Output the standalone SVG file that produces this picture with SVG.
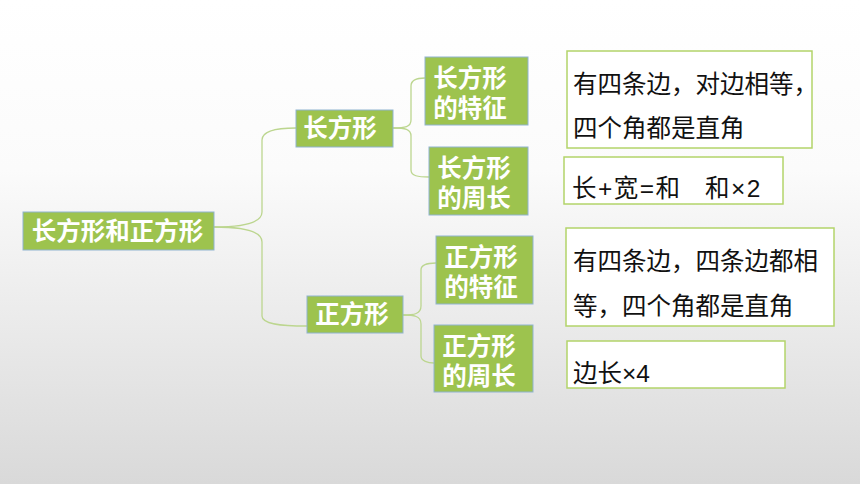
<svg xmlns="http://www.w3.org/2000/svg" width="860" height="484" viewBox="0 0 860 484">
<defs>
<linearGradient id="bg" x1="0" y1="0" x2="0" y2="1">
<stop offset="0" stop-color="#ffffff"/>
<stop offset="0.35" stop-color="#fbfbfb"/>
<stop offset="1" stop-color="#d9d9d9"/>
</linearGradient>
<style>
.node{fill:#9dc34e;stroke:#8fb3d0;stroke-width:1}
.lbl{font-family:"Liberation Sans","Noto Sans CJK SC",sans-serif;font-weight:bold;font-size:24.5px;fill:#ffffff}
.box{fill:#ffffff;stroke:#b3d46a;stroke-width:1.5}
.txt{font-family:"Liberation Sans","Noto Sans CJK SC",sans-serif;font-size:24.5px;fill:#111111}
.con{fill:none;stroke:#bcd68f;stroke-width:1.3}
</style>
</defs>
<rect width="860" height="484" fill="url(#bg)"/>
<g id="connectors">
<path class="con" d="M214,227 C240,227 262,224 262,212 L262,140 C262,131 275,128 296,128"/>
<path class="con" d="M214,227 C240,227 262,230 262,242 L262,316 C262,324 280,326 307,326"/>
<path class="con" d="M393,128 C405,128 411,127 411,120 L411,86 C411,80 418,78 425,78"/>
<path class="con" d="M393,128 C405,128 411,129 411,136 L411,170 C411,176 418,177 429,177"/>
<path class="con" d="M403,315 C414,315 421,314 421,306 L421,270 C421,265 428,263 436,263"/>
<path class="con" d="M403,315 C414,315 421,316 421,324 L421,356 C421,361 428,363 434,363"/>
</g>
<g id="root">
<rect class="node" x="23" y="212" width="191" height="38"/>
<text class="lbl" x="117.5" y="240" text-anchor="middle">长方形和正方形</text>
</g>
<g id="rect">
<rect class="node" x="296" y="110" width="97" height="37"/>
<text class="lbl" x="340" y="137" text-anchor="middle">长方形</text>
</g>
<g id="square">
<rect class="node" x="307" y="296" width="96" height="37"/>
<text class="lbl" x="352" y="323" text-anchor="middle">正方形</text>
</g>
<g id="rect-feature">
<rect class="node" x="425" y="57" width="103" height="68"/>
<text class="lbl" x="470" y="87" text-anchor="middle">长方形</text>
<text class="lbl" x="470" y="117" text-anchor="middle">的特征</text>
</g>
<g id="rect-perimeter">
<rect class="node" x="429" y="147" width="99" height="68"/>
<text class="lbl" x="474" y="177" text-anchor="middle">长方形</text>
<text class="lbl" x="474" y="207" text-anchor="middle">的周长</text>
</g>
<g id="square-feature">
<rect class="node" x="436" y="236" width="97" height="68"/>
<text class="lbl" x="481" y="266" text-anchor="middle">正方形</text>
<text class="lbl" x="481" y="296" text-anchor="middle">的特征</text>
</g>
<g id="square-perimeter">
<rect class="node" x="434" y="325" width="99" height="67"/>
<text class="lbl" x="479" y="355" text-anchor="middle">正方形</text>
<text class="lbl" x="479" y="385" text-anchor="middle">的周长</text>
</g>
<g id="rect-feature-text">
<rect class="box" x="567" y="51" width="245" height="97"/>
<text class="txt" x="573" y="93">有四条边，对边相等，</text>
<text class="txt" x="573" y="137">四个角都是直角</text>
</g>
<g id="rect-perimeter-text">
<rect class="box" x="564" y="157" width="219" height="47"/>
<text class="txt" x="572" y="197" letter-spacing="1.5">长+宽=和<tspan x="705">和×2</tspan></text>
</g>
<g id="square-feature-text">
<rect class="box" x="566" y="228" width="268" height="98"/>
<text class="txt" x="573" y="270">有四条边，四条边都相</text>
<text class="txt" x="573" y="315">等，四个角都是直角</text>
</g>
<g id="square-perimeter-text">
<rect class="box" x="567" y="341" width="218" height="47"/>
<text class="txt" x="573" y="382">边长×4</text>
</g>
</svg>
